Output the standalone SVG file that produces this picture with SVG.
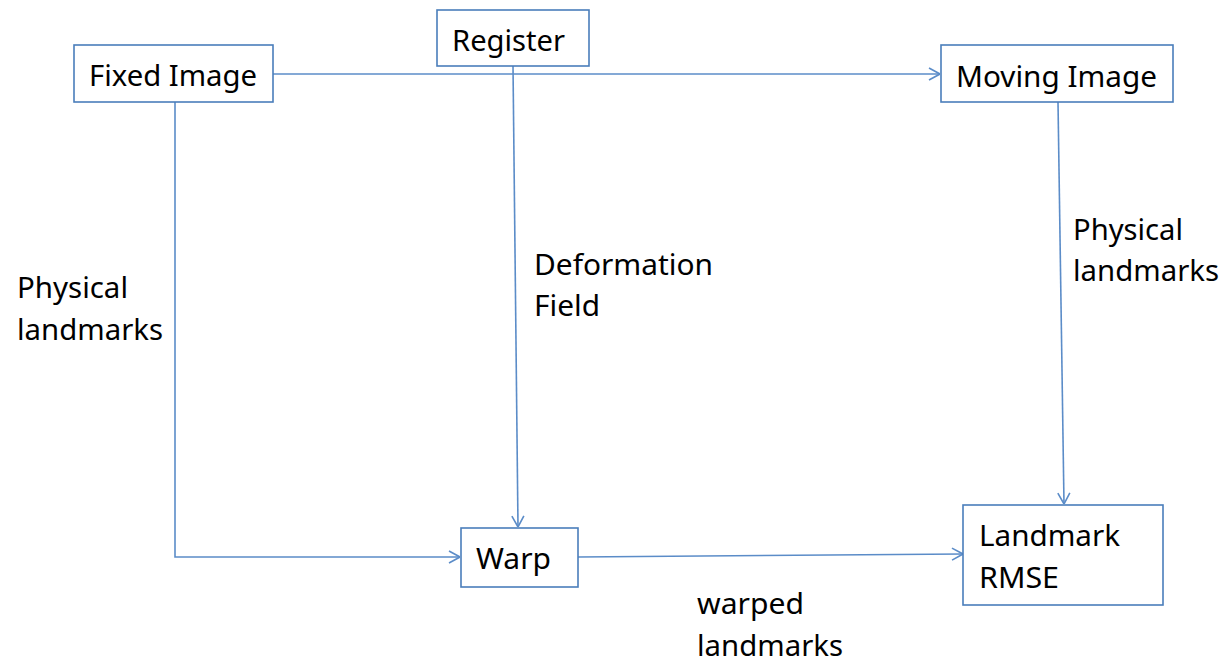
<svg xmlns="http://www.w3.org/2000/svg" width="1224" height="664" viewBox="0 0 1224 664">
  <style>
    .box { fill: #ffffff; stroke: #4a7ebb; stroke-width: 1.6; }
    .link { fill: none; stroke: #5b8cc8; stroke-width: 1.6; }
    .lbl { font-family: "Noto Sans", "Open Sans", sans-serif; font-size: 29px; fill: #000000; }
  </style>
  <defs>
    <marker id="arrow" viewBox="0 0 12 14" refX="12" refY="7" markerWidth="12" markerHeight="14" markerUnits="userSpaceOnUse" orient="auto">
      <path d="M1,1 L12,7 L1,13" fill="none" stroke="#5b8cc8" stroke-width="1.6"/>
    </marker>
  </defs>

  <rect width="1224" height="664" fill="#ffffff"/>

  <!-- connectors -->
  <g id="connectors">
    <line class="link" x1="273" y1="74" x2="940" y2="74" marker-end="url(#arrow)"/>
    <line class="link" x1="513" y1="66" x2="518" y2="527" marker-end="url(#arrow)"/>
    <polyline class="link" points="175,102 175,557 460,557" marker-end="url(#arrow)"/>
    <line class="link" x1="578" y1="557" x2="963" y2="554" marker-end="url(#arrow)"/>
    <line class="link" x1="1058" y1="102" x2="1064" y2="504" marker-end="url(#arrow)"/>
  </g>

  <!-- connector labels -->
  <g id="edge-labels">
    <text class="lbl" x="17" y="298" textLength="111" lengthAdjust="spacingAndGlyphs">Physical</text>
    <text class="lbl" x="17" y="340" textLength="146" lengthAdjust="spacingAndGlyphs">landmarks</text>
    <text class="lbl" x="534" y="275" textLength="179" lengthAdjust="spacingAndGlyphs">Deformation</text>
    <text class="lbl" x="534" y="316" textLength="66" lengthAdjust="spacingAndGlyphs">Field</text>
    <text class="lbl" x="1073" y="240" textLength="110" lengthAdjust="spacingAndGlyphs">Physical</text>
    <text class="lbl" x="1073" y="281" textLength="146" lengthAdjust="spacingAndGlyphs">landmarks</text>
    <text class="lbl" x="697" y="614" textLength="107" lengthAdjust="spacingAndGlyphs">warped</text>
    <text class="lbl" x="697" y="656" textLength="146" lengthAdjust="spacingAndGlyphs">landmarks</text>
  </g>

  <!-- nodes -->
  <g id="fixed-image">
    <rect class="box" x="74" y="45" width="199" height="57"/>
    <text class="lbl" x="89" y="86" textLength="168" lengthAdjust="spacingAndGlyphs">Fixed Image</text>
  </g>
  <g id="register">
    <rect class="box" x="437" y="10" width="152" height="56"/>
    <text class="lbl" x="452" y="51" textLength="113" lengthAdjust="spacingAndGlyphs">Register</text>
  </g>
  <g id="moving-image">
    <rect class="box" x="941" y="45" width="232" height="57"/>
    <text class="lbl" x="956" y="87" textLength="201" lengthAdjust="spacingAndGlyphs">Moving Image</text>
  </g>
  <g id="warp">
    <rect class="box" x="461" y="528" width="117" height="59"/>
    <text class="lbl" x="476" y="569" textLength="75" lengthAdjust="spacingAndGlyphs">Warp</text>
  </g>
  <g id="landmark-rmse">
    <rect class="box" x="963" y="505" width="200" height="100"/>
    <text class="lbl" x="979" y="546" textLength="141" lengthAdjust="spacingAndGlyphs">Landmark</text>
    <text class="lbl" x="979" y="588" textLength="80" lengthAdjust="spacingAndGlyphs">RMSE</text>
  </g>
</svg>
